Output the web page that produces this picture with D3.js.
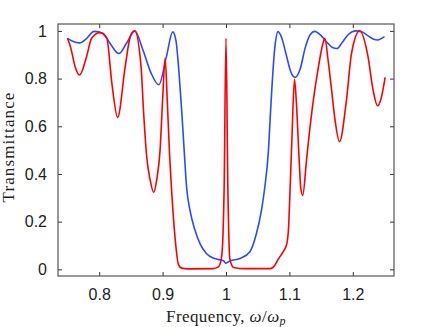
<!DOCTYPE html>
<html>
<head>
<meta charset="utf-8">
<script src="https://cdn.jsdelivr.net/npm/d3@7"></script>
<style>
  body { margin: 0; background: #fff; }
  .tick-label { font-family: "Liberation Sans", Arial, sans-serif; font-size: 16px; fill: #222; }
  .axis-title { font-family: "Liberation Serif", "Times New Roman", serif; font-size: 17px; fill: #222; }
</style>
</head>
<body>
<div id="chart"></div>
<script>
// Frequency (omega / omega_p) and transmittance
const blueFreq = [0.750, 0.758, 0.769, 0.780, 0.792, 0.806, 0.817, 0.831, 0.843, 0.856, 0.869, 0.882, 0.894, 0.906, 0.916,
  0.921, 0.926, 0.930, 0.934, 0.938, 0.943, 0.951, 0.959, 0.969, 0.982, 0.996, 1.000, 1.006, 1.022, 1.038, 1.048, 1.056,
  1.061, 1.067, 1.070, 1.077, 1.082, 1.088, 1.095, 1.102, 1.109, 1.117, 1.125, 1.133, 1.140, 1.150, 1.160, 1.168, 1.175,
  1.183, 1.193, 1.205, 1.215, 1.225, 1.233, 1.239, 1.245, 1.250];
const blueT = [0.969, 0.957, 0.950, 0.968, 0.998, 0.990, 0.948, 0.905, 0.948, 1.000, 0.920, 0.822, 0.774, 0.892, 0.996,
  0.960, 0.820, 0.670, 0.500, 0.340, 0.250, 0.165, 0.108, 0.066, 0.045, 0.036, 0.026, 0.035, 0.045, 0.075, 0.150, 0.248,
  0.340, 0.500, 0.650, 0.930, 0.997, 0.970, 0.900, 0.830, 0.805, 0.840, 0.930, 0.985, 0.998, 0.980, 0.950, 0.930, 0.926,
  0.950, 0.985, 1.000, 0.995, 0.978, 0.965, 0.962, 0.968, 0.976];

const redFreq = [0.750, 0.755, 0.762, 0.769, 0.780, 0.788, 0.801, 0.812, 0.820, 0.829, 0.841, 0.849, 0.856, 0.866, 0.870,
  0.875, 0.880, 0.886, 0.891, 0.896, 0.900, 0.904, 0.907, 0.911, 0.914, 0.920, 0.925, 0.930, 0.940, 0.980, 0.988, 0.993,
  0.997, 1.000, 1.003, 1.006, 1.012, 1.030, 1.070, 1.075, 1.083, 1.090, 1.096, 1.099, 1.101, 1.104, 1.108, 1.111, 1.115,
  1.118, 1.121, 1.127, 1.132, 1.140, 1.145, 1.153, 1.156, 1.161, 1.166, 1.172, 1.179, 1.190, 1.198, 1.211, 1.224, 1.232,
  1.239, 1.245, 1.251];
const redT = [0.969, 0.930, 0.850, 0.815, 0.892, 0.969, 0.993, 0.969, 0.780, 0.637, 0.850, 0.976, 1.000, 0.850, 0.660,
  0.470, 0.380, 0.322, 0.380, 0.500, 0.710, 0.885, 0.730, 0.480, 0.340, 0.122, 0.020, 0.005, 0.002, 0.003, 0.010, 0.050,
  0.330, 0.969, 0.330, 0.045, 0.008, 0.003, 0.003, 0.010, 0.045, 0.073, 0.108, 0.190, 0.330, 0.550, 0.797, 0.700, 0.480,
  0.340, 0.310, 0.458, 0.584, 0.752, 0.836, 0.948, 0.969, 0.878, 0.766, 0.626, 0.535, 0.710, 0.906, 1.000, 0.892, 0.752,
  0.686, 0.720, 0.805];

const xTicks = [0.8, 0.9, 1, 1.1, 1.2];
const yTicks = [0, 0.2, 0.4, 0.6, 0.8, 1];

const W = 436, H = 327;
const margin = { top: 24, right: 42, bottom: 51, left: 58 };
const width = W - margin.left - margin.right,
      height = H - margin.top - margin.bottom;

const svg = d3.select("#chart").append("svg")
    .attr("width", W)
    .attr("height", H);

const g = svg.append("g")
    .attr("transform", "translate(" + margin.left + "," + margin.top + ")");

const x = d3.scaleLinear().domain([0.735, 1.265]).range([0, width]);
const y = d3.scaleLinear().domain([-0.028, 1.029]).range([height, 0]);

const fmt = d => d3.format("")(d);

// axes: ticks point inward, mirrored on top and right
g.append("g")
    .attr("transform", "translate(0," + height + ")")
    .call(d3.axisBottom(x).tickValues(xTicks).tickSizeInner(-4).tickSizeOuter(0).tickPadding(13).tickFormat(fmt))
    .call(a => a.select(".domain").remove())
    .selectAll("text").attr("class", "tick-label");

g.append("g")
    .call(d3.axisTop(x).tickValues(xTicks).tickSizeInner(-4).tickSizeOuter(0).tickFormat(""))
    .call(a => a.select(".domain").remove());

g.append("g")
    .call(d3.axisLeft(y).tickValues(yTicks).tickSizeInner(-4).tickSizeOuter(0).tickPadding(11).tickFormat(fmt))
    .call(a => a.select(".domain").remove())
    .selectAll("text").attr("class", "tick-label");

g.append("g")
    .attr("transform", "translate(" + width + ",0)")
    .call(d3.axisRight(y).tickValues(yTicks).tickSizeInner(-4).tickSizeOuter(0).tickFormat(""))
    .call(a => a.select(".domain").remove());

g.selectAll(".tick line").attr("stroke", "#333");
g.selectAll(".tick text").attr("fill", "#222");

// curves
const line = d3.line()
    .x(d => x(d[0]))
    .y(d => y(d[1]))
    .curve(d3.curveMonotoneX);

const blue = blueFreq.map((f, i) => [f, blueT[i]]);
const red = redFreq.map((f, i) => [f, redT[i]]);

g.append("path")
    .datum(blue)
    .attr("fill", "none")
    .attr("stroke", "#2a4bff")
    .attr("stroke-width", 1.6)
    .attr("d", line);

g.append("path")
    .datum(red)
    .attr("fill", "none")
    .attr("stroke", "#ff0000")
    .attr("stroke-width", 1.6)
    .attr("d", line);

// frame
g.append("rect")
    .attr("width", width)
    .attr("height", height)
    .attr("fill", "none")
    .attr("stroke", "#555")
    .attr("stroke-width", 1.2);

// axis titles
const xt = g.append("text")
    .attr("class", "axis-title")
    .attr("x", width / 2)
    .attr("y", height + 46)
    .attr("text-anchor", "middle")
    .style("letter-spacing", "0.4px");
xt.append("tspan").text("Frequency, ");
xt.append("tspan").attr("font-style", "italic").text("ω");
xt.append("tspan").text("/");
xt.append("tspan").attr("font-style", "italic").text("ω");
xt.append("tspan").attr("font-style", "italic").attr("font-size", "12px").attr("dy", 3).text("p");

g.append("text")
    .attr("class", "axis-title")
    .attr("transform", "translate(" + (-44) + "," + (height / 2 - 3) + ") rotate(-90)")
    .attr("text-anchor", "middle")
    .style("letter-spacing", "1.1px")
    .text("Transmittance");
</script>
</body>
</html>
